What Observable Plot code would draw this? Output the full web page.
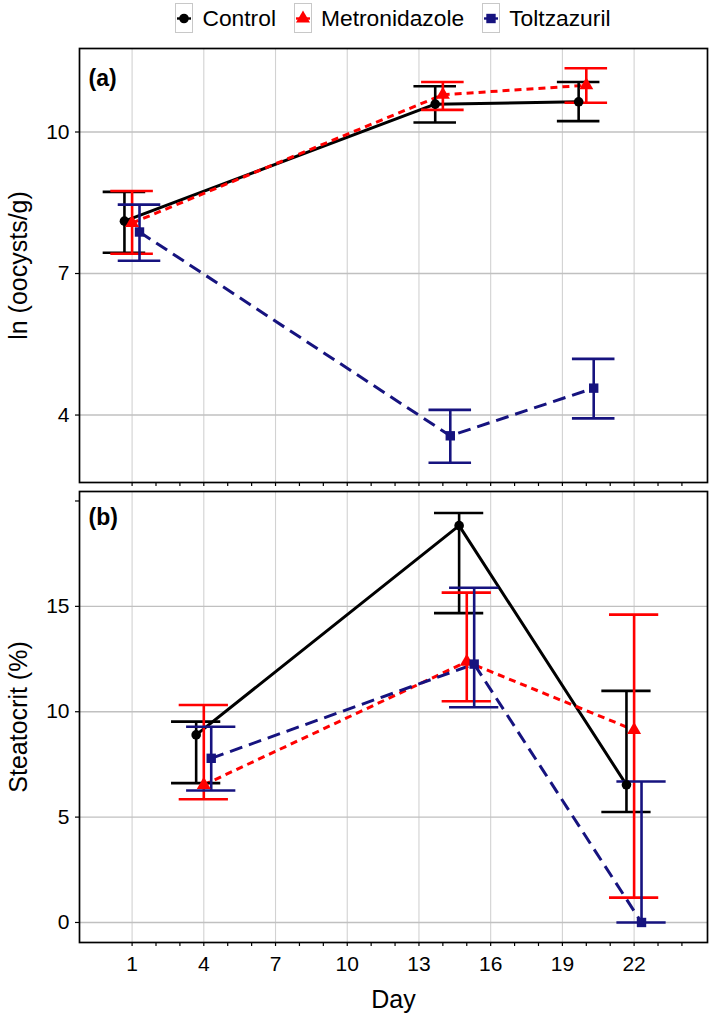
<!DOCTYPE html>
<html><head><meta charset="utf-8">
<script src="https://cdn.jsdelivr.net/npm/d3@7"></script>
<script src="https://cdn.jsdelivr.net/npm/@observablehq/plot@0.6"></script>
<style>
html,body{margin:0;padding:0;background:#fff;}
body{width:709px;font-family:"Liberation Sans",Arial,Helvetica,sans-serif;}
#legend{height:36px;width:709px;box-sizing:border-box;padding-left:79px;padding-right:2px;display:flex;align-items:center;justify-content:center;}
.item{display:flex;align-items:center;margin:0 9px;}
.item span{font-size:22.8px;margin-left:9px;color:#000;line-height:1;}
svg.key{display:block;overflow:visible}
#chart svg{display:block}
</style></head><body>
<div id="legend"></div>
<div id="chart"></div>
<script>
// ---- categories & styling per series ----
const groups = ["Control", "Metronidazole", "Toltzazuril"];
const groupColors = ["#000000", "#ff0000", "#16137f"];
const groupSymbols = ["circle", "triangle", "square"];
const groupDash = [undefined, "7,5", "13,7"];
const groupR = [4.8, 5.2, 5.3];

// ---- x axis ticks ----
const dayTicks = [1,2,3,4,5,6,7,8,9,10,11,12,13,14,15,16,17,18,19,20,21,22,23,24];
const dayLabels = [1, 4, 7, 10, 13, 16, 19, 22];

// ---- panel (a): ln(oocysts/g) ----
const daysA = [1, 14, 20];
const oocControl     = [8.11, 10.59, 10.64];
const oocControlLow  = [7.44, 10.20, 10.23];
const oocControlHigh = [8.73, 10.97, 11.06];
const oocMetro       = [8.07, 10.79, 10.99];
const oocMetroLow    = [7.42, 10.47, 10.62];
const oocMetroHigh   = [8.75, 11.06, 11.35];
const oocToltz       = [7.88, 3.56, 4.57];
const oocToltzLow    = [7.27, 2.99, 3.93];
const oocToltzHigh   = [8.46, 4.11, 5.19];
const oocTicks = [4, 7, 10];

// ---- panel (b): steatocrit (%) ----
const daysB = [4, 15, 22];
const steControl     = [8.90, 18.83, 6.53];
const steControlLow  = [6.61, 14.68, 5.24];
const steControlHigh = [9.53, 19.43, 10.99];
const steMetro       = [6.53, 12.37, 9.13];
const steMetroLow    = [5.85, 10.50, 1.18];
const steMetroHigh   = [10.32, 15.65, 14.61];
const steToltz       = [7.79, 12.26, 0.00];
const steToltzLow    = [6.26, 10.21, 0.00];
const steToltzHigh   = [9.29, 15.88, 6.69];
const steTicks = [0, 5, 10, 15, 20];
const steLabelled = [0, 5, 10, 15];

const FONT = '"Liberation Sans", Arial, Helvetica, sans-serif';
const dodge = [-0.32, 0, 0.31];

function rowsFor(days, means, lows, highs) {
  const rows = [];
  groups.forEach((g, i) => days.forEach((d, j) => rows.push({
    group: g, gi: i, day: d, x: d + dodge[i], mean: means[i][j], lo: lows[i][j], hi: highs[i][j]
  })));
  return rows;
}

const rowsA = rowsFor(daysA, [oocControl, oocMetro, oocToltz], [oocControlLow, oocMetroLow, oocToltzLow], [oocControlHigh, oocMetroHigh, oocToltzHigh]);
const rowsB = rowsFor(daysB, [steControl, steMetro, steToltz], [steControlLow, steMetroLow, steToltzLow], [steControlHigh, steMetroHigh, steToltzHigh]);

function panel(o) {
  const byG = i => o.rows.filter(r => r.gi === i);
  const marks = [
    Plot.gridX(dayLabels, {stroke: "#d2d2d2", strokeOpacity: 1, strokeWidth: 1.1}),
    Plot.gridY(o.grid, {stroke: "#c0c0c0", strokeOpacity: 1, strokeWidth: 1.4}),
    ...groups.map((g, i) => Plot.line(byG(i), {x: "x", y: "mean", stroke: groupColors[i], strokeWidth: 3, strokeDasharray: groupDash[i], strokeLinecap: "butt"})),
    ...groups.flatMap((g, i) => [
      Plot.ruleX(byG(i), {x: "x", y1: "lo", y2: "hi", stroke: groupColors[i], strokeWidth: 2.6}),
      Plot.ruleY(byG(i), {y: "lo", x1: d => d.x - o.cap, x2: d => d.x + o.cap, stroke: groupColors[i], strokeWidth: 2.6}),
      Plot.ruleY(byG(i), {y: "hi", x1: d => d.x - o.cap, x2: d => d.x + o.cap, stroke: groupColors[i], strokeWidth: 2.6})
    ]),
    ...groups.map((g, i) => Plot.dot(byG(i), {x: "x", y: "mean", symbol: groupSymbols[i], fill: groupColors[i], stroke: "none", r: groupR[i]})),
    Plot.frame({stroke: "#000", strokeWidth: 1.7}),
    Plot.axisX(dayTicks, {tickSize: 4, tickPadding: 10, label: null, fontSize: 21, strokeWidth: 1.2,
      tickFormat: d => (o.xLabels && dayLabels.includes(d)) ? String(d) : ""}),
    Plot.axisY(o.ticks, {tickSize: 4, tickPadding: 6, label: null, fontSize: 21, strokeWidth: 1.2,
      tickFormat: d => o.labelled.includes(d) ? String(d) : ""}),
    Plot.text([o.tag], {frameAnchor: "top-left", dx: 9, dy: o.tagDy, textAnchor: "start", lineAnchor: "middle", fontWeight: "bold", fontSize: 23, fill: "#000"}),
    Plot.text([o.yTitle], {frameAnchor: "left", dx: -60.5, rotate: -90, textAnchor: "middle", lineAnchor: "middle", fontSize: 25, fill: "#000"})
  ];
  if (o.xTitle) marks.push(Plot.text([o.xTitle], {frameAnchor: "bottom", dy: 57, textAnchor: "middle", lineAnchor: "middle", fontSize: 25, fill: "#000"}));
  return Plot.plot({
    width: 709, height: o.height,
    marginLeft: 79, marginRight: 2, marginTop: o.marginTop, marginBottom: o.marginBottom,
    x: {domain: [-1.2, 25.07]},
    y: {domain: o.domain},
    style: {fontFamily: FONT, fontSize: "21px", color: "#000", background: "#fff", overflow: "visible"},
    marks
  });
}

const chart = document.getElementById("chart");
chart.appendChild(panel({rows: rowsA, domain: [2.57, 11.77], ticks: oocTicks, labelled: oocTicks, grid: oocTicks,
  cap: 0.89, height: 454, marginTop: 12, marginBottom: 8, xLabels: false, tag: "(a)", tagDy: 30.6, yTitle: "ln (oocysts/g)"}));
chart.appendChild(panel({rows: rowsB, domain: [-0.95, 20.45], ticks: steTicks, labelled: steLabelled, grid: steLabelled,
  cap: 1.03, height: 528, marginTop: 1, marginBottom: 76, xLabels: true, tag: "(b)", tagDy: 26.6, yTitle: "Steatocrit (%)", xTitle: "Day"}));

// ---- legend ----
const legend = d3.select("#legend");
const symTypes = {circle: d3.symbolCircle, triangle: d3.symbolTriangle, square: d3.symbolSquare};
groups.forEach((g, i) => {
  const item = legend.append("div").attr("class", "item");
  const svg = item.append("svg").attr("class", "key").attr("width", 18).attr("height", 30);
  svg.append("rect").attr("x", 0.5).attr("y", 0.5).attr("width", 17).attr("height", 29)
    .attr("fill", "#fff").attr("stroke", "#c8c8c8").attr("stroke-width", 1);
  svg.append("line").attr("x1", 2).attr("x2", 16).attr("y1", 15.5).attr("y2", 15.5)
    .attr("stroke", groupColors[i]).attr("stroke-width", 2.4);
  svg.append("path").attr("transform", "translate(9,15.5)")
    .attr("d", d3.symbol().type(symTypes[groupSymbols[i]]).size(Math.PI * groupR[i] * groupR[i])())
    .attr("fill", groupColors[i]);
  item.append("span").text(g);
});
</script></body></html>
